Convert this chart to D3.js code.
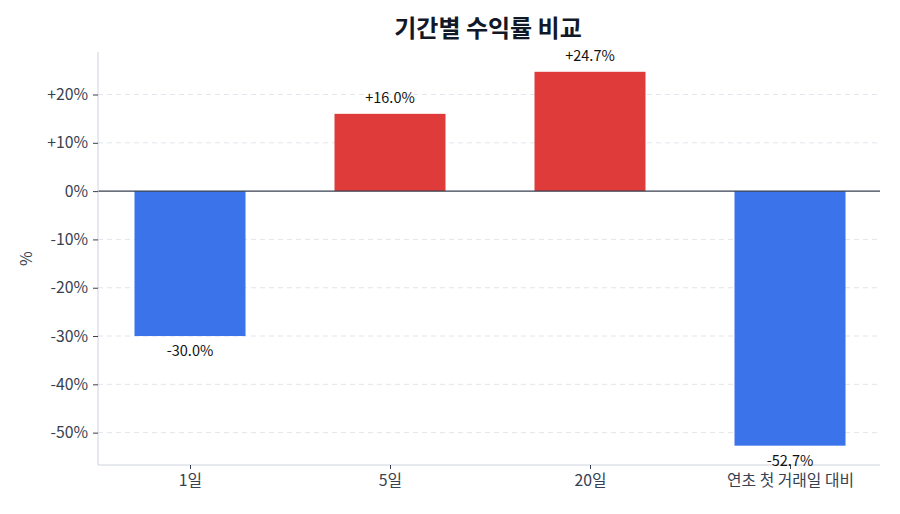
<!DOCTYPE html>
<html>
<head>
<meta charset="utf-8">
<script src="https://cdn.jsdelivr.net/npm/d3@7"></script>
<style>
    body { margin: 0; background: #fff; }
    text { font-family: "Noto Sans CJK KR", "Noto Sans", sans-serif; }
</style>
</head>
<body>
<div id="wrapper"></div>
<script>
const categories = ["1일", "5일", "20일", "연초 첫 거래일 대비"];
const returns = [-30.0, 16.0, 24.7, -52.7];
const yTicks = [20, 10, 0, -10, -20, -30, -40, -50];

let dimension = {
    width: 900,
    height: 514,
    margin: { top: 52, left: 98, bottom: 49, right: 20 }
}
dimension.boundedWidth = dimension.width - dimension.margin.left - dimension.margin.right;
dimension.boundedHeight = dimension.height - dimension.margin.top - dimension.margin.bottom;

function buildPlot() {
    const svg = d3.select("#wrapper").append("svg")
        .attr("width", dimension.width)
        .attr("height", dimension.height);

    const data = categories.map((c, i) => ({ cat: c, i: i, v: returns[i] }));

    const xScale = d3.scaleLinear()
        .domain([-0.46, 3.45])
        .range([dimension.margin.left, dimension.width - dimension.margin.right]);
    const yScale = d3.scaleLinear()
        .domain([-56.7, 28.8])
        .range([dimension.height - dimension.margin.bottom, dimension.margin.top]);

    const barW = 0.555;

    // grid
    svg.append("g").selectAll("line")
        .data(yTicks.filter(t => t !== 0))
        .enter().append("line")
        .attr("x1", dimension.margin.left)
        .attr("x2", dimension.width - dimension.margin.right)
        .attr("y1", d => yScale(d))
        .attr("y2", d => yScale(d))
        .attr("stroke", "#e2e5eb")
        .attr("stroke-dasharray", "5,4");

    // bars
    svg.append("g").selectAll("rect")
        .data(data)
        .enter().append("rect")
        .attr("x", d => xScale(d.i - barW / 2))
        .attr("width", d => xScale(barW) - xScale(0))
        .attr("y", d => yScale(Math.max(0, d.v)))
        .attr("height", d => Math.abs(yScale(d.v) - yScale(0)))
        .attr("fill", d => d.v >= 0 ? "#e03b3b" : "#3b73ea");

    // zero line
    svg.append("line")
        .attr("x1", dimension.margin.left)
        .attr("x2", dimension.width - dimension.margin.right)
        .attr("y1", yScale(0))
        .attr("y2", yScale(0))
        .attr("stroke", "#374151")
        .attr("stroke-width", 1.3);

    // axes
    const yAxis = svg.append("g")
        .attr("transform", `translate(${dimension.margin.left},0)`)
        .call(d3.axisLeft(yScale).tickValues(yTicks).tickSize(5).tickPadding(5)
            .tickFormat(d => d > 0 ? "+" + d + "%" : d + "%"));
    const xAxis = svg.append("g")
        .attr("transform", `translate(0,${dimension.height - dimension.margin.bottom})`)
        .call(d3.axisBottom(xScale).tickValues([0, 1, 2, 3]).tickSize(4).tickPadding(6)
            .tickFormat(i => categories[i]));

    [yAxis, xAxis].forEach(ax => {
        ax.select(".domain").attr("stroke", "#cdd2dc");
        ax.selectAll(".tick line").attr("stroke", "#374151");
        ax.selectAll(".tick text")
            .attr("fill", "#374151")
            .style("font-size", "15.8px")
            .style("font-family", "'Noto Sans CJK KR', sans-serif");
    });
    xAxis.select(".domain").attr("d", `M${dimension.margin.left},0H${dimension.width - dimension.margin.right}`);
    yAxis.select(".domain").attr("d", `M0,${dimension.margin.top}V${dimension.height - dimension.margin.bottom}`);

    // value labels
    svg.append("g").selectAll("text")
        .data(data)
        .enter().append("text")
        .attr("x", d => xScale(d.i))
        .attr("y", d => d.v >= 0 ? yScale(d.v) - 11 : yScale(d.v) + 20)
        .attr("text-anchor", "middle")
        .attr("fill", "#111")
        .style("font-size", "14.5px")
        .text(d => (d.v > 0 ? "+" : "") + d.v.toFixed(1) + "%");

    // y label
    svg.append("text")
        .attr("transform", `translate(32,${(dimension.margin.top + dimension.height - dimension.margin.bottom) / 2}) rotate(-90)`)
        .attr("text-anchor", "middle")
        .attr("fill", "#374151")
        .style("font-size", "16px")
        .text("%");

    // title
    svg.append("text")
        .attr("x", 488)
        .attr("y", 37)
        .attr("text-anchor", "middle")
        .attr("fill", "#111827")
        .style("font-size", "24px")
        .style("font-weight", "bold")
        .text("기간별 수익률 비교");
}

buildPlot()
</script>
</body>
</html>
